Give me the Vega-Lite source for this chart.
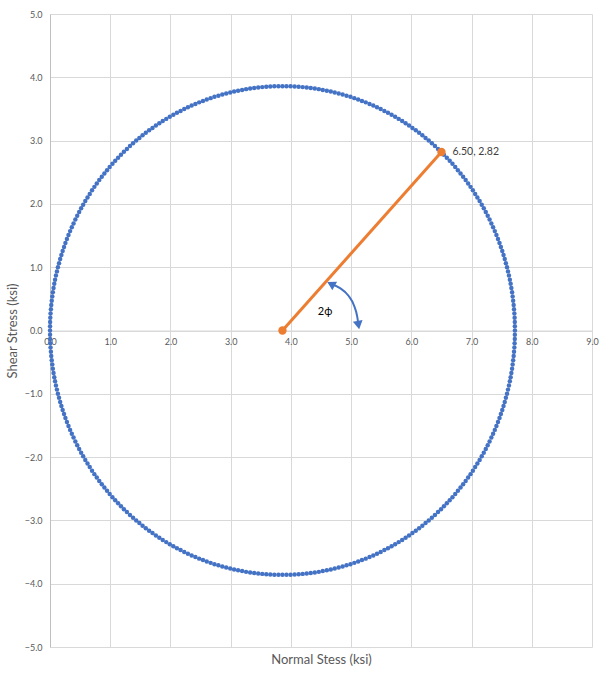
{
"$schema": "https://vega.github.io/schema/vega-lite/v6.json",
"width": 542, "height": 633,
"autosize": {"type": "none"},
"padding": {"left": 50, "top": 14, "right": 20, "bottom": 27},
"config": {"font": "Lato", "view": {"stroke": null}},
"datasets": {
"circle": [
{"x":7.720,"y":0},{"x":7.719,"y":0.067},{"x":7.718,"y":0.135},{"x":7.715,"y":0.202},{"x":7.711,"y":0.269},{"x":7.705,"y":0.336},{"x":7.699,"y":0.403},{"x":7.691,"y":0.470},{"x":7.682,"y":0.537},{"x":7.673,"y":0.604},
{"x":7.661,"y":0.670},{"x":7.649,"y":0.737},{"x":7.636,"y":0.803},{"x":7.621,"y":0.868},{"x":7.605,"y":0.934},{"x":7.589,"y":0.999},{"x":7.570,"y":1.064},{"x":7.551,"y":1.129},{"x":7.531,"y":1.193},{"x":7.510,"y":1.257},
{"x":7.487,"y":1.320},{"x":7.464,"y":1.383},{"x":7.439,"y":1.446},{"x":7.413,"y":1.508},{"x":7.386,"y":1.570},{"x":7.358,"y":1.631},{"x":7.329,"y":1.692},{"x":7.299,"y":1.752},{"x":7.268,"y":1.812},{"x":7.236,"y":1.871},
{"x":7.203,"y":1.930},{"x":7.169,"y":1.988},{"x":7.134,"y":2.045},{"x":7.097,"y":2.102},{"x":7.060,"y":2.158},{"x":7.022,"y":2.214},{"x":6.983,"y":2.269},{"x":6.943,"y":2.323},{"x":6.902,"y":2.376},{"x":6.860,"y":2.429},
{"x":6.817,"y":2.481},{"x":6.773,"y":2.532},{"x":6.729,"y":2.583},{"x":6.683,"y":2.633},{"x":6.637,"y":2.681},{"x":6.589,"y":2.729},{"x":6.541,"y":2.777},{"x":6.493,"y":2.823},{"x":6.443,"y":2.869},{"x":6.392,"y":2.913},
{"x":6.341,"y":2.957},{"x":6.289,"y":3.000},{"x":6.236,"y":3.042},{"x":6.183,"y":3.083},{"x":6.129,"y":3.123},{"x":6.074,"y":3.162},{"x":6.018,"y":3.200},{"x":5.962,"y":3.237},{"x":5.905,"y":3.274},{"x":5.848,"y":3.309},
{"x":5.790,"y":3.343},{"x":5.731,"y":3.376},{"x":5.672,"y":3.408},{"x":5.612,"y":3.439},{"x":5.552,"y":3.469},{"x":5.491,"y":3.498},{"x":5.430,"y":3.526},{"x":5.368,"y":3.553},{"x":5.306,"y":3.579},{"x":5.243,"y":3.604},
{"x":5.180,"y":3.627},{"x":5.117,"y":3.650},{"x":5.053,"y":3.671},{"x":4.989,"y":3.691},{"x":4.924,"y":3.710},{"x":4.859,"y":3.729},{"x":4.794,"y":3.745},{"x":4.728,"y":3.761},{"x":4.663,"y":3.776},{"x":4.597,"y":3.789},
{"x":4.530,"y":3.801},{"x":4.464,"y":3.813},{"x":4.397,"y":3.822},{"x":4.330,"y":3.831},{"x":4.263,"y":3.839},{"x":4.196,"y":3.845},{"x":4.129,"y":3.851},{"x":4.062,"y":3.855},{"x":3.995,"y":3.858},{"x":3.927,"y":3.859},
{"x":3.860,"y":3.860},{"x":3.793,"y":3.859},{"x":3.725,"y":3.858},{"x":3.658,"y":3.855},{"x":3.591,"y":3.851},{"x":3.524,"y":3.845},{"x":3.457,"y":3.839},{"x":3.390,"y":3.831},{"x":3.323,"y":3.822},{"x":3.256,"y":3.813},
{"x":3.190,"y":3.801},{"x":3.123,"y":3.789},{"x":3.057,"y":3.776},{"x":2.992,"y":3.761},{"x":2.926,"y":3.745},{"x":2.861,"y":3.729},{"x":2.796,"y":3.710},{"x":2.731,"y":3.691},{"x":2.667,"y":3.671},{"x":2.603,"y":3.650},
{"x":2.540,"y":3.627},{"x":2.477,"y":3.604},{"x":2.414,"y":3.579},{"x":2.352,"y":3.553},{"x":2.290,"y":3.526},{"x":2.229,"y":3.498},{"x":2.168,"y":3.469},{"x":2.108,"y":3.439},{"x":2.048,"y":3.408},{"x":1.989,"y":3.376},
{"x":1.930,"y":3.343},{"x":1.872,"y":3.309},{"x":1.815,"y":3.274},{"x":1.758,"y":3.237},{"x":1.702,"y":3.200},{"x":1.646,"y":3.162},{"x":1.591,"y":3.123},{"x":1.537,"y":3.083},{"x":1.484,"y":3.042},{"x":1.431,"y":3.000},
{"x":1.379,"y":2.957},{"x":1.328,"y":2.913},{"x":1.277,"y":2.869},{"x":1.227,"y":2.823},{"x":1.179,"y":2.777},{"x":1.131,"y":2.729},{"x":1.083,"y":2.681},{"x":1.037,"y":2.633},{"x":0.991,"y":2.583},{"x":0.947,"y":2.532},
{"x":0.903,"y":2.481},{"x":0.860,"y":2.429},{"x":0.818,"y":2.376},{"x":0.777,"y":2.323},{"x":0.737,"y":2.269},{"x":0.698,"y":2.214},{"x":0.660,"y":2.158},{"x":0.623,"y":2.102},{"x":0.586,"y":2.045},{"x":0.551,"y":1.988},
{"x":0.517,"y":1.930},{"x":0.484,"y":1.871},{"x":0.452,"y":1.812},{"x":0.421,"y":1.752},{"x":0.391,"y":1.692},{"x":0.362,"y":1.631},{"x":0.334,"y":1.570},{"x":0.307,"y":1.508},{"x":0.281,"y":1.446},{"x":0.256,"y":1.383},
{"x":0.233,"y":1.320},{"x":0.210,"y":1.257},{"x":0.189,"y":1.193},{"x":0.169,"y":1.129},{"x":0.150,"y":1.064},{"x":0.131,"y":0.999},{"x":0.115,"y":0.934},{"x":0.099,"y":0.868},{"x":0.084,"y":0.803},{"x":0.071,"y":0.737},
{"x":0.059,"y":0.670},{"x":0.047,"y":0.604},{"x":0.038,"y":0.537},{"x":0.029,"y":0.470},{"x":0.021,"y":0.403},{"x":0.015,"y":0.336},{"x":0.009,"y":0.269},{"x":0.005,"y":0.202},{"x":0.002,"y":0.135},{"x":0.001,"y":0.067},
{"x":0,"y":0},
{"x":7.719,"y":-0.067},{"x":7.718,"y":-0.135},{"x":7.715,"y":-0.202},{"x":7.711,"y":-0.269},{"x":7.705,"y":-0.336},{"x":7.699,"y":-0.403},{"x":7.691,"y":-0.470},{"x":7.682,"y":-0.537},{"x":7.673,"y":-0.604},
{"x":7.661,"y":-0.670},{"x":7.649,"y":-0.737},{"x":7.636,"y":-0.803},{"x":7.621,"y":-0.868},{"x":7.605,"y":-0.934},{"x":7.589,"y":-0.999},{"x":7.570,"y":-1.064},{"x":7.551,"y":-1.129},{"x":7.531,"y":-1.193},{"x":7.510,"y":-1.257},
{"x":7.487,"y":-1.320},{"x":7.464,"y":-1.383},{"x":7.439,"y":-1.446},{"x":7.413,"y":-1.508},{"x":7.386,"y":-1.570},{"x":7.358,"y":-1.631},{"x":7.329,"y":-1.692},{"x":7.299,"y":-1.752},{"x":7.268,"y":-1.812},{"x":7.236,"y":-1.871},
{"x":7.203,"y":-1.930},{"x":7.169,"y":-1.988},{"x":7.134,"y":-2.045},{"x":7.097,"y":-2.102},{"x":7.060,"y":-2.158},{"x":7.022,"y":-2.214},{"x":6.983,"y":-2.269},{"x":6.943,"y":-2.323},{"x":6.902,"y":-2.376},{"x":6.860,"y":-2.429},
{"x":6.817,"y":-2.481},{"x":6.773,"y":-2.532},{"x":6.729,"y":-2.583},{"x":6.683,"y":-2.633},{"x":6.637,"y":-2.681},{"x":6.589,"y":-2.729},{"x":6.541,"y":-2.777},{"x":6.493,"y":-2.823},{"x":6.443,"y":-2.869},{"x":6.392,"y":-2.913},
{"x":6.341,"y":-2.957},{"x":6.289,"y":-3.000},{"x":6.236,"y":-3.042},{"x":6.183,"y":-3.083},{"x":6.129,"y":-3.123},{"x":6.074,"y":-3.162},{"x":6.018,"y":-3.200},{"x":5.962,"y":-3.237},{"x":5.905,"y":-3.274},{"x":5.848,"y":-3.309},
{"x":5.790,"y":-3.343},{"x":5.731,"y":-3.376},{"x":5.672,"y":-3.408},{"x":5.612,"y":-3.439},{"x":5.552,"y":-3.469},{"x":5.491,"y":-3.498},{"x":5.430,"y":-3.526},{"x":5.368,"y":-3.553},{"x":5.306,"y":-3.579},{"x":5.243,"y":-3.604},
{"x":5.180,"y":-3.627},{"x":5.117,"y":-3.650},{"x":5.053,"y":-3.671},{"x":4.989,"y":-3.691},{"x":4.924,"y":-3.710},{"x":4.859,"y":-3.729},{"x":4.794,"y":-3.745},{"x":4.728,"y":-3.761},{"x":4.663,"y":-3.776},{"x":4.597,"y":-3.789},
{"x":4.530,"y":-3.801},{"x":4.464,"y":-3.813},{"x":4.397,"y":-3.822},{"x":4.330,"y":-3.831},{"x":4.263,"y":-3.839},{"x":4.196,"y":-3.845},{"x":4.129,"y":-3.851},{"x":4.062,"y":-3.855},{"x":3.995,"y":-3.858},{"x":3.927,"y":-3.859},
{"x":3.860,"y":-3.860},{"x":3.793,"y":-3.859},{"x":3.725,"y":-3.858},{"x":3.658,"y":-3.855},{"x":3.591,"y":-3.851},{"x":3.524,"y":-3.845},{"x":3.457,"y":-3.839},{"x":3.390,"y":-3.831},{"x":3.323,"y":-3.822},{"x":3.256,"y":-3.813},
{"x":3.190,"y":-3.801},{"x":3.123,"y":-3.789},{"x":3.057,"y":-3.776},{"x":2.992,"y":-3.761},{"x":2.926,"y":-3.745},{"x":2.861,"y":-3.729},{"x":2.796,"y":-3.710},{"x":2.731,"y":-3.691},{"x":2.667,"y":-3.671},{"x":2.603,"y":-3.650},
{"x":2.540,"y":-3.627},{"x":2.477,"y":-3.604},{"x":2.414,"y":-3.579},{"x":2.352,"y":-3.553},{"x":2.290,"y":-3.526},{"x":2.229,"y":-3.498},{"x":2.168,"y":-3.469},{"x":2.108,"y":-3.439},{"x":2.048,"y":-3.408},{"x":1.989,"y":-3.376},
{"x":1.930,"y":-3.343},{"x":1.872,"y":-3.309},{"x":1.815,"y":-3.274},{"x":1.758,"y":-3.237},{"x":1.702,"y":-3.200},{"x":1.646,"y":-3.162},{"x":1.591,"y":-3.123},{"x":1.537,"y":-3.083},{"x":1.484,"y":-3.042},{"x":1.431,"y":-3.000},
{"x":1.379,"y":-2.957},{"x":1.328,"y":-2.913},{"x":1.277,"y":-2.869},{"x":1.227,"y":-2.823},{"x":1.179,"y":-2.777},{"x":1.131,"y":-2.729},{"x":1.083,"y":-2.681},{"x":1.037,"y":-2.633},{"x":0.991,"y":-2.583},{"x":0.947,"y":-2.532},
{"x":0.903,"y":-2.481},{"x":0.860,"y":-2.429},{"x":0.818,"y":-2.376},{"x":0.777,"y":-2.323},{"x":0.737,"y":-2.269},{"x":0.698,"y":-2.214},{"x":0.660,"y":-2.158},{"x":0.623,"y":-2.102},{"x":0.586,"y":-2.045},{"x":0.551,"y":-1.988},
{"x":0.517,"y":-1.930},{"x":0.484,"y":-1.871},{"x":0.452,"y":-1.812},{"x":0.421,"y":-1.752},{"x":0.391,"y":-1.692},{"x":0.362,"y":-1.631},{"x":0.334,"y":-1.570},{"x":0.307,"y":-1.508},{"x":0.281,"y":-1.446},{"x":0.256,"y":-1.383},
{"x":0.233,"y":-1.320},{"x":0.210,"y":-1.257},{"x":0.189,"y":-1.193},{"x":0.169,"y":-1.129},{"x":0.150,"y":-1.064},{"x":0.131,"y":-0.999},{"x":0.115,"y":-0.934},{"x":0.099,"y":-0.868},{"x":0.084,"y":-0.803},{"x":0.071,"y":-0.737},
{"x":0.059,"y":-0.670},{"x":0.047,"y":-0.604},{"x":0.038,"y":-0.537},{"x":0.029,"y":-0.470},{"x":0.021,"y":-0.403},{"x":0.015,"y":-0.336},{"x":0.009,"y":-0.269},{"x":0.005,"y":-0.202},{"x":0.002,"y":-0.135},{"x":0.001,"y":-0.067}
],
"radius": [{"x":3.86,"y":0},{"x":6.5,"y":2.82}],
"point": [{"x":6.5,"y":2.82,"label":"6.50, 2.82"}],
"arc": [{"x":4.666,"y":0.735},{"x":4.816,"y":0.670},{"x":4.953,"y":0.553},{"x":5.048,"y":0.395},{"x":5.103,"y":0.211},{"x":5.122,"y":0.085}],
"headTop": [{"x":4.666,"y":0.735}],
"headBottom": [{"x":5.122,"y":0.085}],
"angleLabel": [{"x":4.567,"y":0.30,"label":"2ϕ"}]
},
"encoding": {
"x": {"field":"x","type":"quantitative",
 "scale":{"domain":[0,9],"nice":false,"zero":false},
 "axis":{"values":[0,1,2,3,4,5,6,7,8,9],"format":".1f","offset":-316.5,"grid":true,"gridColor":"#d9d9d9","gridWidth":1,
  "domainColor":"#d9d9d9","ticks":false,"labelPadding":7,"labelFontSize":9,"labelColor":"#595959","labelFlush":false,"labelOverlap":false,
  "title":"Normal Stess (ksi)","titleFontSize":13,"titleFontWeight":"normal","titleColor":"#595959","titleBaseline":"middle","titleY":328.5}},
"y": {"field":"y","type":"quantitative",
 "scale":{"domain":[-5,5],"nice":false,"zero":false},
 "axis":{"values":[-5,-4,-3,-2,-1,0,1,2,3,4,5],"format":".1f","grid":true,"gridColor":"#d9d9d9","gridWidth":1,
  "domainColor":"#bfbfbf","ticks":false,"labelPadding":8,"labelFontSize":9,"labelColor":"#595959","labelFlush":false,"labelOverlap":false,
  "title":"Shear Stress (ksi)","titleFontSize":13,"titleFontWeight":"normal","titleColor":"#595959","titlePadding":5}}
},
"layer": [
{"data":{"name":"circle"},"mark":{"type":"circle","size":20,"color":"#4472C4","opacity":1}},
{"data":{"name":"radius"},"mark":{"type":"line","color":"#ED7D31","strokeWidth":3}},
{"data":{"name":"radius"},"mark":{"type":"circle","size":70,"color":"#ED7D31","opacity":1}},
{"data":{"name":"point"},"mark":{"type":"text","align":"left","baseline":"middle","dx":11,"fontSize":10.5,"color":"#404040"},"encoding":{"text":{"field":"label"}}},
{"data":{"name":"arc"},"mark":{"type":"line","color":"#4472C4","strokeWidth":2,"interpolate":"monotone"}},
{"data":{"name":"headTop"},"mark":{"type":"point","shape":"triangle-up","angle":299,"filled":true,"size":95,"color":"#4472C4","opacity":1}},
{"data":{"name":"headBottom"},"mark":{"type":"point","shape":"triangle-down","angle":350,"filled":true,"size":95,"color":"#4472C4","opacity":1}},
{"data":{"name":"angleLabel"},"mark":{"type":"text","align":"center","baseline":"middle","fontSize":11,"color":"#000000"},"encoding":{"text":{"field":"label"}}}
]
}
